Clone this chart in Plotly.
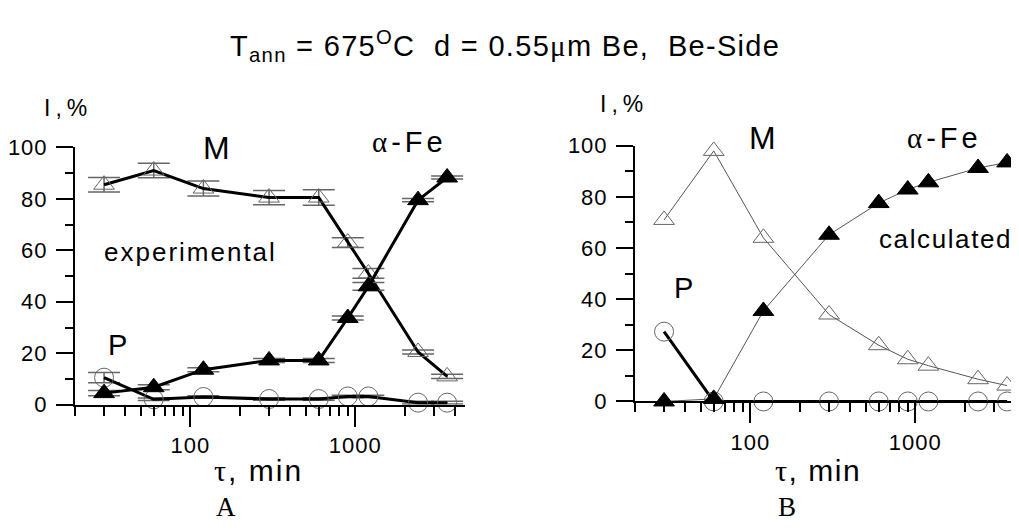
import plotly.graph_objects as go
import math

# ---------------- data ----------------
tau_min = [30, 60, 120, 300, 600, 900, 1200, 2400, 3600]

# panel A: experimental
exp_M = [85.5, 91, 84, 80.5, 80.5, 63, 51, 20.5, 11]
exp_M_err = [2.8, 2.8, 2.9, 2.8, 3.0, 1.9, 1.9, 0.8, 0.8]
exp_Fe = [4.5, 6.8, 13.6, 17.2, 17.2, 33.7, 46, 79.5, 88.3]
exp_Fe_err = [1.0, 1.0, 0.8, 0.8, 0.8, 0.8, 1.5, 0.6, 0.6]
exp_P = [10.5, 2.1, 3.0, 2.2, 2.2, 3.2, 3.2, 0.8, 0.8]
exp_P_err = [2.0, 0.5, 0.5, 0.5, 0.5, 0.5, 0.5, 0.5, 0.5]

# panel B: calculated
calc_M = [71, 98, 64, 34, 22, 16.5, 14, 8.7, 6.2]
calc_Fe = [0, 1, 35.4, 65.2, 77.6, 82.9, 85.7, 91.3, 93.5]
calc_P = [27.3, 0, 0, 0, 0, 0, 0, 0, 0]

x_tickvals = [100, 1000]
x_ticktext = ["100", "1000"]
x_minor = [20, 30, 40, 50, 60, 70, 80, 90, 200, 300, 400, 500, 600, 700, 800, 900, 2000, 3000, 4000]
y_tickvals = [0, 20, 40, 60, 80, 100]
y_ticktext = ["0", "20", "40", "60", "80", "100"]
y_minor = [10, 30, 50, 70, 90]

W, H = 1019, 531
OFF = 8  # page body margin of the written html
SANS = "Liberation Sans, Arial, sans-serif"
SERIF = "Liberation Serif, Times New Roman, serif"


def px(x):
    return (x - OFF) / W


def py(y):
    return 1 - (y - OFF) / H


def sp(t, ls):
    return f'<span style="letter-spacing:{ls}px">{t}</span>'


fig = go.Figure()

GREY = "#666666"

# ---- panel A ----
fig.add_trace(go.Scatter(
    x=tau_min, y=exp_M, mode="lines+markers", xaxis="x", yaxis="y",
    line=dict(color="black", width=3),
    marker=dict(symbol="triangle-up-open", size=18, color=GREY, line=dict(width=1)),
    error_y=dict(type="data", array=exp_M_err, visible=True, color=GREY, thickness=1.5, width=16),
    cliponaxis=False, showlegend=False))
fig.add_trace(go.Scatter(
    x=tau_min, y=exp_P, mode="lines+markers", xaxis="x", yaxis="y",
    line=dict(color="black", width=3),
    marker=dict(symbol="circle-open", size=19, color=GREY, line=dict(width=1)),
    error_y=dict(type="data", array=exp_P_err, visible=True, color=GREY, thickness=1.5, width=16),
    cliponaxis=False, showlegend=False))
fig.add_trace(go.Scatter(
    x=tau_min, y=exp_Fe, mode="lines+markers", xaxis="x", yaxis="y",
    line=dict(color="black", width=3),
    marker=dict(symbol="triangle-up", size=18, color="black", line=dict(width=1, color="black")),
    error_y=dict(type="data", array=exp_Fe_err, visible=True, color=GREY, thickness=1.5, width=16),
    cliponaxis=False, showlegend=False))

# ---- panel B ----
fig.add_trace(go.Scatter(
    x=tau_min, y=calc_M, mode="lines+markers", xaxis="x2", yaxis="y2",
    line=dict(color="#555555", width=1),
    marker=dict(symbol="triangle-up-open", size=18, color=GREY, line=dict(width=1)),
    cliponaxis=False, showlegend=False))
fig.add_trace(go.Scatter(
    x=tau_min, y=calc_P, mode="lines+markers", xaxis="x2", yaxis="y2",
    line=dict(color="black", width=3),
    marker=dict(symbol="circle-open", size=19, color=GREY, line=dict(width=1)),
    cliponaxis=False, showlegend=False))
fig.add_trace(go.Scatter(
    x=tau_min, y=calc_Fe, mode="lines+markers", xaxis="x2", yaxis="y2",
    line=dict(color="#555555", width=1),
    marker=dict(symbol="triangle-up", size=18, color="black", line=dict(width=1, color="black")),
    cliponaxis=False, showlegend=False))

lx0 = math.log10(20)
dec = 165.0

xcommon = dict(type="log", showgrid=False, zeroline=False, showline=True, linewidth=2,
               linecolor="black", ticks="outside", ticklen=20, tickwidth=2, tickcolor="black",
               tickvals=x_tickvals, ticktext=[sp(t, 1) for t in x_ticktext],
               tickfont=dict(family=SANS, size=22, color="black"),
               minor=dict(tickvals=x_minor, ticks="outside", ticklen=9, tickwidth=2, tickcolor="black"))
ycommon = dict(range=[0, 100], showgrid=False, zeroline=False, showline=True, linewidth=2,
               linecolor="black", ticks="outside", ticklen=17, tickwidth=2, tickcolor="black",
               tickvals=y_tickvals, ticktext=[sp(t, 1) for t in y_ticktext], ticklabelstandoff=4,
               tickfont=dict(family=SANS, size=22, color="black"),
               minor=dict(tickvals=y_minor, ticks="outside", ticklen=8, tickwidth=2, tickcolor="black"))

fig.update_layout(
    width=W, height=H, margin=dict(l=0, r=0, t=0, b=0),
    paper_bgcolor="white", plot_bgcolor="rgba(0,0,0,0)",
    xaxis=dict(xcommon, domain=[px(75), px(465)], anchor="y",
               range=[lx0, lx0 + (465 - 75) / dec]),
    yaxis=dict(ycommon, domain=[py(411.7), py(141.7)], anchor="x"),
    xaxis2=dict(xcommon, domain=[px(635), px(1019)], anchor="y2",
                range=[lx0, lx0 + (1019 - 635) / dec]),
    yaxis2=dict(ycommon, domain=[py(408.3), py(140)], anchor="x2"),
)


def ann(text, x, y, size, family=SANS, xanchor="center", yanchor="middle"):
    fig.add_annotation(text=text, x=px(x), y=py(y), xref="paper", yref="paper",
                       xanchor=xanchor, yanchor=yanchor, showarrow=False,
                       font=dict(family=family, size=size, color="black"))


NB = "\u00a0"
title = ("T<sub>ann</sub> = 675<sup>O</sup>C" + NB + NB + "d = 0.55"
         + '<span style="font-family:Liberation Serif">μ</span>m Be,' + NB + NB + "Be-Side")
ann(sp(title, 1.3), 228, 35, 29, xanchor="left")

alpha = '<span style="font-family:Liberation Serif">α</span>'
tau = '<span style="font-family:Liberation Serif">τ</span>'

# panel A labels
ann(sp("I,%", 5), 42, 100, 23, xanchor="left")
ann("M", 216, 142, 32)
ann(sp(alpha + "-Fe", 4), 370, 136, 29, xanchor="left")
ann(sp("experimental", 2), 102, 251, 26, xanchor="left")
ann("P", 117, 349, 29)
ann(sp(tau + ", min", 2), 212, 481, 30, xanchor="left")
ann("A", 226, 519, 27, family=SERIF)

# panel B labels
ann(sp("I,%", 5), 598, 96, 23, xanchor="left")
ann("M", 762, 132, 32)
ann(sp(alpha + "-Fe", 4), 905, 132, 29, xanchor="left")
ann(sp("calculated", 1.6), 877, 238, 26, xanchor="left")
ann("P", 683, 289, 29)
ann(sp(tau + ", min", 1.5), 773, 481, 30, xanchor="left")
ann("B", 787, 519, 27, family=SERIF)

fig.write_html("out.html")
